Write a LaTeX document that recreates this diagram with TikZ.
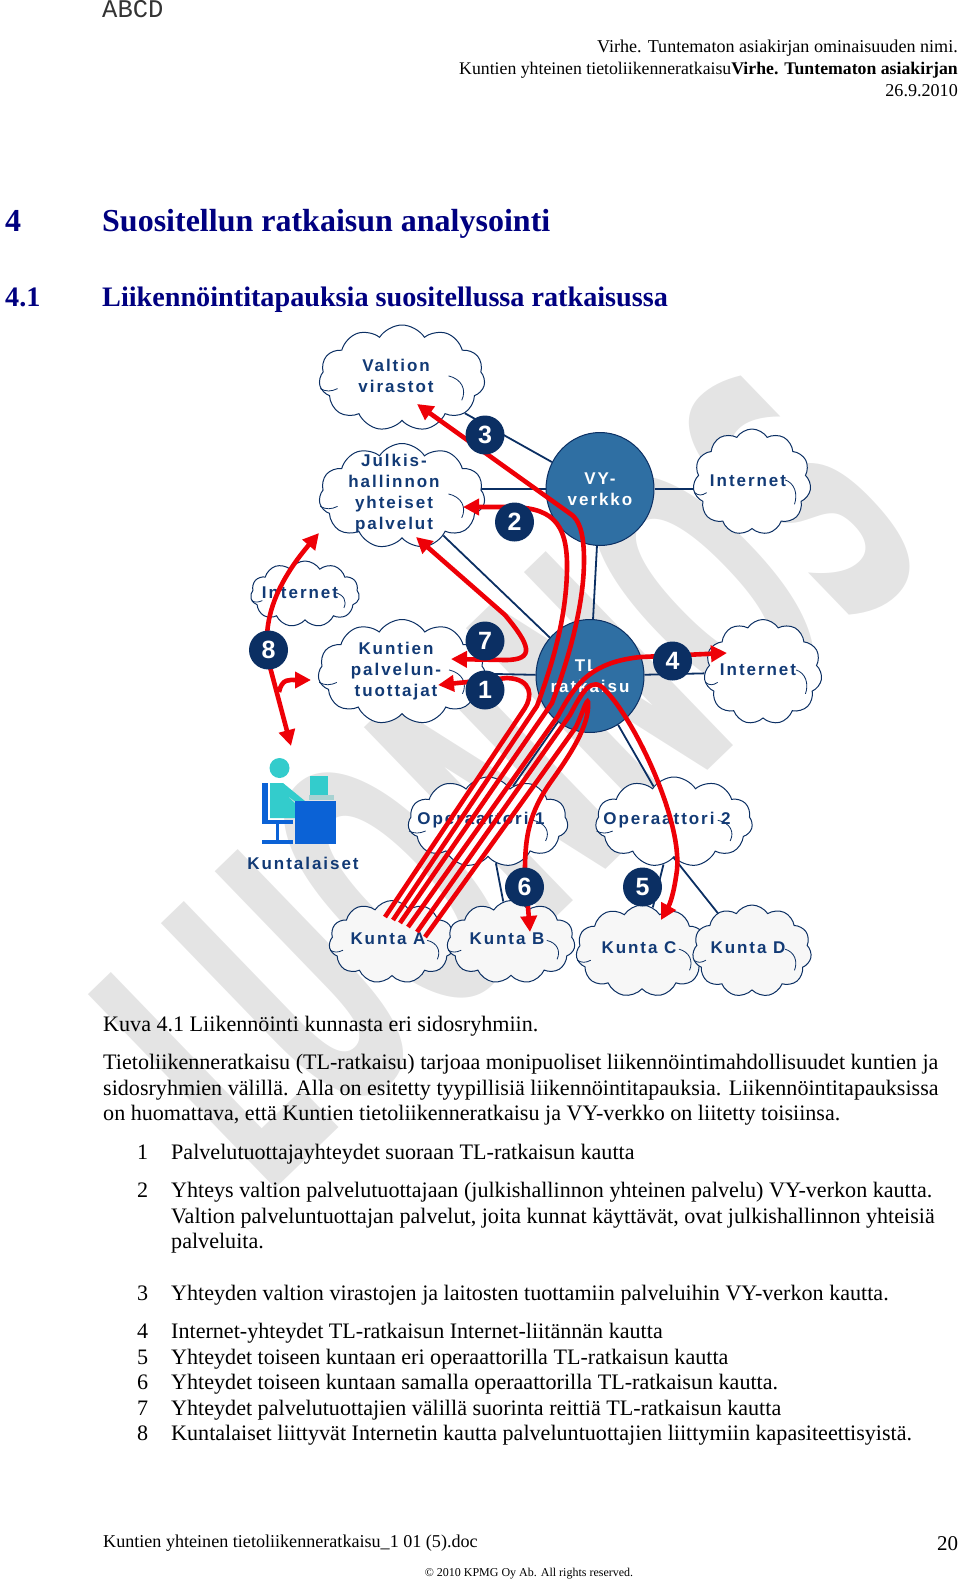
\documentclass[tikz,border=0pt]{standalone}
\usepackage{fontspec}
\setmainfont{Liberation Serif}
\newfontfamily\diafont[LetterSpace=11.5]{Liberation Sans}
\newfontfamily\numfont{Liberation Sans}
\newfontfamily\markfont{DejaVu Sans}
\setmonofont{Liberation Mono}
\usepackage{tikz}
\usetikzlibrary{arrows.meta,shapes.symbols,shapes.geometric,backgrounds,calc}
\definecolor{navy}{HTML}{0B2F63}
\definecolor{netblue}{HTML}{2F6FA3}
\definecolor{headblue}{HTML}{000080}
\definecolor{textblue}{HTML}{123A75}
\definecolor{flowred}{HTML}{EE0007}
\definecolor{markgray}{HTML}{E4E4E4}
\definecolor{teal}{HTML}{33CCCC}
\definecolor{deskblue}{HTML}{0B62D6}
% curls inside a cloud, w and h are half its size
\newcommand{\curls}[3]{%
\draw[navy,line width=.8pt] ($(#1)+(.56*#2,-.04*#3)$) .. controls ($(#1)+(.72*#2,.02*#3)$) and ($(#1)+(.78*#2,.22*#3)$) .. ($(#1)+(.72*#2,.42*#3)$);
\draw[navy,line width=.8pt] ($(#1.west)+(1pt,.2*#3)$) .. controls ($(#1.west)+(.08*#2,.26*#3)$) and ($(#1.west)+(.14*#2,.26*#3)$) .. ($(#1.west)+(.22*#2,.2*#3)$);}
\begin{document}
\begin{tikzpicture}[x=1pt,y=-1pt,
cloudbox/.style={cloud,cloud puffs=11,cloud puff arc=115,cloud ignores aspect,draw=navy,line width=1pt,fill=white,inner sep=0pt},
lbl/.style={font=\diafont\bfseries\fontsize{17}{21}\selectfont,text=textblue,align=center,inner sep=0pt},
netnode/.style={ellipse,draw=navy,line width=1pt,fill=netblue,text=white,align=center,inner sep=0pt,minimum width=108pt,minimum height=113pt,font=\diafont\bfseries\fontsize{17}{21}\selectfont},
numdot/.style={circle,fill=navy,text=white,inner sep=0pt,minimum size=39pt,font=\numfont\bfseries\fontsize{25}{25}\selectfont},
link/.style={navy,line width=1.8pt},
flow/.style={flowred,line width=4.6pt,-{Triangle[length=16pt,width=16pt]}},
flowboth/.style={flow,{Triangle[length=16pt,width=16pt]}-{Triangle[length=16pt,width=16pt]}},
body/.style={anchor=base west,inner sep=0pt,font=\fontsize{22.1}{25}\selectfont},
headline/.style={anchor=base west,inner sep=0pt,text=headblue,font=\bfseries\fontsize{32}{36}\selectfont},
subline/.style={headline,font=\bfseries\fontsize{28.2}{34}\selectfont},
hdr/.style={anchor=base east,inner sep=0pt,font=\fontsize{18.1}{22}\selectfont}]
\useasboundingbox (0,0) rectangle (960,1582);
% page text
\node[anchor=base west,inner sep=0pt,font=\ttfamily\fontsize{25.5}{26}\selectfont,text=black!80] (mark) at (102,17) {ABCD};
\node[hdr] (hdr1) at (958,52) {Virhe. Tuntematon asiakirjan ominaisuuden nimi.};
\node[hdr,font=\fontsize{17.75}{22}\selectfont] (hdr2) at (958,74) {Kuntien yhteinen tietoliikenneratkaisu\textbf{Virhe. Tuntematon asiakirjan}};
\node[hdr] (hdr3) at (958,96) {26.9.2010};
\node[headline] (h1n) at (5,231) {4};
\node[headline] (h1) at (102,231) {Suositellun ratkaisun analysointi};
\node[subline] (h2n) at (5,306) {4.1};
\node[subline] (h2) at (102,306) {Liikennöintitapauksia suositellussa ratkaisussa};
\node[body] (cap) at (103,1031) {Kuva 4.1 Liikennöinti kunnasta eri sidosryhmiin.};
\node[body] (p1) at (103,1069) {Tietoliikenneratkaisu (TL-ratkaisu) tarjoaa monipuoliset liikennöintimahdollisuudet kuntien ja};
\node[body] (p2) at (103,1095) {sidosryhmien välillä. Alla on esitetty tyypillisiä liikennöintitapauksia. Liikennöintitapauksissa};
\node[body] (p3) at (103,1120) {on huomattava, että Kuntien tietoliikenneratkaisu ja VY-verkko on liitetty toisiinsa.};
\node[body] (n1) at (137,1159) {1};
\node[body] (t1) at (171,1159) {Palvelutuottajayhteydet suoraan TL-ratkaisun kautta};
\node[body] (n2) at (137,1197) {2};
\node[body] (t2) at (171,1197) {Yhteys valtion palvelutuottajaan (julkishallinnon yhteinen palvelu) VY-verkon kautta.};
\node[body] (t2b) at (171,1223) {Valtion palveluntuottajan palvelut, joita kunnat käyttävät, ovat julkishallinnon yhteisiä};
\node[body] (t2c) at (171,1248) {palveluita.};
\node[body] (n3) at (137,1300) {3};
\node[body] (t3) at (171,1300) {Yhteyden valtion virastojen ja laitosten tuottamiin palveluihin VY-verkon kautta.};
\node[body] (n4) at (137,1338) {4};
\node[body] (t4) at (171,1338) {Internet-yhteydet TL-ratkaisun Internet-liitännän kautta};
\node[body] (n5) at (137,1364) {5};
\node[body] (t5) at (171,1364) {Yhteydet toiseen kuntaan eri operaattorilla TL-ratkaisun kautta};
\node[body] (n6) at (137,1389) {6};
\node[body] (t6) at (171,1389) {Yhteydet toiseen kuntaan samalla operaattorilla TL-ratkaisun kautta.};
\node[body] (n7) at (137,1415) {7};
\node[body] (t7) at (171,1415) {Yhteydet palvelutuottajien välillä suorinta reittiä TL-ratkaisun kautta};
\node[body] (n8) at (137,1440) {8};
\node[body] (t8) at (171,1440) {Kuntalaiset liittyvät Internetin kautta palveluntuottajien liittymiin kapasiteettisyistä.};
\node[body] (foot) at (103,1547) {\fontsize{18.1}{20}\selectfont Kuntien yhteinen tietoliikenneratkaisu\_1 01 (5).doc};
\node[body] (page) at (937,1550) {\fontsize{21}{24}\selectfont 20};
\node[anchor=base,inner sep=0pt,font=\fontsize{12}{14}\selectfont] (copy) at (529,1576) {© 2010 KPMG Oy Ab. All rights reserved.};
% clouds and networks
\node[cloudbox,minimum width=166pt,minimum height=106pt] (valtion) at (402,378) {};
\node[cloudbox,minimum width=166pt,minimum height=105pt] (julkis) at (402,496) {};
\node[cloudbox,minimum width=118pt,minimum height=106pt] (netA) at (752,482) {};
\node[cloudbox,minimum width=109pt,minimum height=66pt] (netB) at (305,594) {};
\node[cloudbox,minimum width=168pt,minimum height=105pt] (tuottajat) at (402,672) {};
\node[cloudbox,minimum width=118pt,minimum height=105pt] (netC) at (763,672) {};
\node[cloudbox,minimum width=160pt,minimum height=90pt] (op1) at (488,822) {};
\node[cloudbox,minimum width=157pt,minimum height=90pt] (op2) at (674,822) {};
\node[cloudbox,fill=black!3,minimum width=126pt,minimum height=83pt] (kuntaA) at (392,942) {};
\node[cloudbox,fill=black!3,minimum width=128pt,minimum height=83pt] (kuntaB) at (511,942) {};
\node[cloudbox,fill=black!3,minimum width=132pt,minimum height=92pt] (kuntaC) at (642,951) {};
\node[cloudbox,fill=black!3,minimum width=119pt,minimum height=92pt] (kuntaD) at (752,951) {};
\foreach \cname/\cw/\ch in {valtion/83/53,julkis/83/52,netA/59/53,netB/54/33,tuottajat/84/52,netC/59/52,op1/80/45,op2/78/45,kuntaA/63/41,kuntaB/64/41,kuntaC/66/46,kuntaD/59/46}
  \curls{\cname}{\cw}{\ch};
\node[netnode] (vy) at (600,489) {VY-\\verkko};
\node[netnode,inner sep=-4pt] (tl) at (590,676) {TL-\\ratkaisu};
\node[lbl] (valtionT) at (396,376) {Valtion\\virastot};
\node[lbl] (julkisT) at (394,494) {Julkis-\\hallinnon\\yhteiset\\palvelut};
\node[lbl] (netAT) at (748,481) {Internet};
\node[lbl] (netBT) at (300,593) {Internet};
\node[lbl] (tuottajatT) at (396,671) {Kuntien\\palvelun-\\tuottajat};
\node[lbl] (netCT) at (758,670) {Internet};
\node[lbl] (op1T) at (481,820) {Operaattori 1};
\node[lbl] (op2T) at (667,820) {Operaattori 2};
\node[lbl] (kuntaAT) at (388,939) {Kunta A};
\node[lbl] (kuntaBT) at (507,939) {Kunta B};
\node[lbl] (kuntaCT) at (639,948) {Kunta C};
\node[lbl] (kuntaDT) at (748,948) {Kunta D};
\node[lbl] (asukasT) at (303,863) {Kuntalaiset};
% watermark and plain links go behind the clouds
\begin{scope}[on background layer]
\node[inner sep=0pt,text=markgray,rotate=44,font=\markfont\bfseries\fontsize{370}{370}\selectfont] (draft) at (507,778) {\scalebox{.459}[1]{LUONNOS}};
\draw[link] (valtion) -- (vy);
\draw[link] (julkis.center |- vy.center) -- (vy);
\draw[link] (julkis) -- (tl);
\draw[link] (vy) -- (netA.center |- vy.center);
\draw[link] (vy) -- (tl);
\draw[link] (tuottajat) -- (tl);
\draw[link] (tl) -- (netC);
\draw[link] (tl) -- (op1);
\draw[link] (tl) -- (op2);
\draw[link] (op1) -- (kuntaB);
\draw[link] (op2) -- (kuntaC);
\draw[link] ([xshift=-16pt,yshift=-16pt]op2.center) -- ([xshift=-4pt]kuntaD.center);
\end{scope}
% the person at the desk
\fill[teal] (279.5,768) circle (10);
\fill[teal] (270,783) -- (283,783) -- (305,801) -- (301,806) -- (285,794) -- (295,803) -- (295,818) -- (270,818) -- cycle;
\fill[deskblue] (262,783) rectangle (268,822);
\fill[deskblue] (262,820) rectangle (293,824);
\fill[deskblue] (276,824) rectangle (279,840);
\fill[deskblue] (262,840) rectangle (293,844);
\fill[deskblue] (295,801) rectangle (336,844);
\fill[teal] (310,776) rectangle (328,795);
\fill[teal!70!black!40] (309,795) rectangle (334,800);
% red routes
\coordinate (endA1) at (385,917);
\coordinate (endA2) at (393,920);
\coordinate (endA3) at (400,923);
\coordinate (endA4) at (408,927);
\coordinate (endA5) at (417,932);
\coordinate (endA6) at (425,937);
\coordinate (tip1) at (438,685);
\coordinate (tip2) at (463,507);
\coordinate (tip3) at (417,404);
\coordinate (tip4) at (727,653);
\coordinate (tip5) at (661,920);
\coordinate (tip6) at (530,932);
\coordinate (tip7a) at (451,659);
\coordinate (tip7b) at (416,537);
\coordinate (tip8a) at (291,746);
\coordinate (tip8b) at (319,533);
\coordinate (tip8c) at (311,680);
\draw[flow] (endA1) -- (525,708) .. controls (532,697) and (533,679) .. (507,678) -- (tip1);
\draw[flow] (endA2) -- (537,706) .. controls (552,665) and (566,620) .. (567,570) .. controls (568,520) and (550,507) .. (507,507) -- (tip2);
\draw[flow] (endA3) -- (552,703) .. controls (572,650) and (584,600) .. (584,560) .. controls (584,530) and (578,520) .. (572,515) -- (tip3);
\draw[flow] (endA4) -- (558,716) .. controls (575,685) and (590,662) .. (641,657) -- (tip4);
\draw[flow] (endA5) -- (570,715) .. controls (582,692) and (592,675) .. (605,690) .. controls (635,720) and (682,820) .. (677,870) .. controls (675,885) and (672,900) .. (tip5);
\draw[flow] (endA6) -- (576,727) .. controls (583,712) and (587,698) .. (588,702) .. controls (590,725) and (570,755) .. (550,783) .. controls (530,812) and (525,835) .. (525,870) -- (tip6);
\draw[flowboth] (tip7b) -- (505,615) .. controls (530,645) and (536,660) .. (505,660) -- (tip7a);
\draw[flowboth] (tip8a) -- (270,667) .. controls (264,640) and (262,600) .. (tip8b);
\draw[flow] (279,692) .. controls (282,678) and (290,680) .. (tip8c);
% numbers on top
\node[numdot] (num3) at (485,435) {3};
\node[numdot] (num2) at (514.5,522) {2};
\node[numdot] (num8) at (268.5,650) {8};
\node[numdot] (num7) at (485,641) {7};
\node[numdot] (num1) at (485,690) {1};
\node[numdot] (num4) at (672.5,661) {4};
\node[numdot] (num6) at (524.5,887) {6};
\node[numdot] (num5) at (642.5,887) {5};
\end{tikzpicture}
\end{document}
